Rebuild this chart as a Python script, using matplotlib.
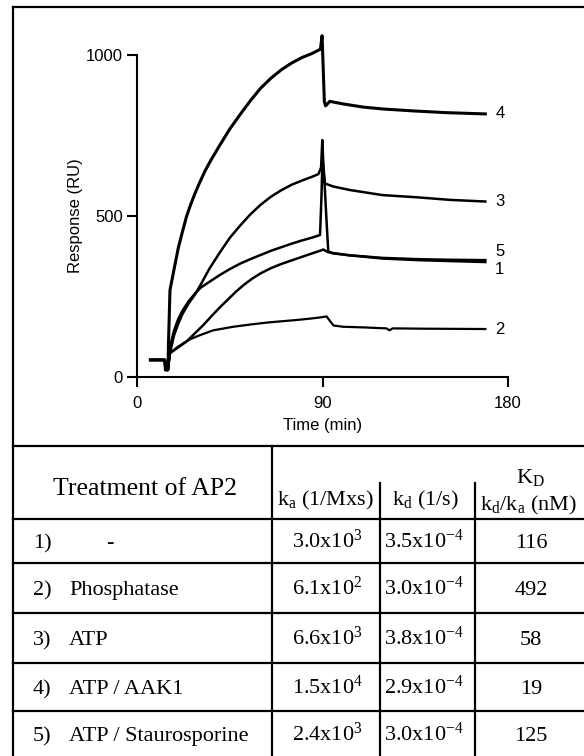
import numpy as np
import matplotlib
matplotlib.use('Agg')
import matplotlib.pyplot as plt

plt.rcParams['font.family'] = ['Liberation Sans', 'DejaVu Sans']
plt.rcParams['mathtext.fontset'] = 'custom'
plt.rcParams['mathtext.rm'] = 'Liberation Serif'
plt.rcParams['mathtext.it'] = 'Liberation Serif:italic'
plt.rcParams['mathtext.bf'] = 'Liberation Serif:bold'

## DATA
# shared baseline before injection
base_t = [6.5, 13.5, 13.8, 15.0]
base_r = [53, 53, 22, 22]

# 1) untreated
t1 = [15.3, 16, 20, 24, 28, 32, 36, 40, 44, 48, 52, 56, 60, 65, 70, 75, 80, 85, 88.8,
      90.4, 92.5, 95, 103, 119, 136, 152, 169]
r1 = [40, 74, 92, 110, 135, 160, 188, 215, 240, 265, 287, 306, 322, 338, 351, 362, 373, 384, 392,
      396, 388, 385, 378, 368, 363, 360, 357]
# 2) phosphatase
t2 = [15.3, 16, 19, 22.5, 26, 30.6, 37, 46.7, 55, 63, 70, 77.5, 85, 88.8,
      92, 93.5, 95.3, 100, 110, 121, 122.5, 124, 140, 169]
r2 = [40, 74, 90, 105, 118, 130, 145, 156, 163, 169, 173, 177, 182, 185,
      188, 175, 160, 156, 154, 151, 145, 151, 150, 149]
# 3) ATP
t3 = [15.3, 16, 18, 20, 22, 25, 28, 31, 35, 40, 45, 50, 55, 60, 65, 70, 75, 80, 85, 88, 89.3,
      89.9, 90.5, 91.2, 95, 103, 119, 136, 152, 169]
r3 = [40, 74, 130, 165, 195, 228, 255, 288, 335, 385, 432, 470, 505, 535, 560, 580, 597, 610, 622, 630, 650,
      736, 650, 601, 592, 581, 565, 558, 550, 545]
# 4) ATP / AAK1
t4 = [15.3, 16, 18, 20, 22, 24, 26, 28, 30, 33, 36, 40, 45, 50, 55, 60, 65, 70, 75, 80, 85, 89,
      89.8, 90.9, 91.5, 93.5, 100, 110, 120, 135, 150, 169]
r4 = [110, 270, 335, 400, 450, 498, 535, 568, 598, 640, 675, 718, 770, 815, 858, 897, 928, 954, 975, 992, 1005, 1018,
      1060, 855, 842, 856, 848, 838, 832, 826, 821, 817]
# 5) ATP / Staurosporine
t5 = [15.3, 16, 18, 20, 22, 25, 28, 31, 35, 40, 45, 50, 55, 60, 65, 70, 75, 80, 85, 88.8,
      89.5, 90, 91, 92, 92.8, 95, 103, 119, 136, 152, 169]
r5 = [40, 94, 145, 180, 205, 235, 258, 278, 295, 316, 335, 352, 366, 379, 392, 403, 414, 424, 433, 441,
      560, 680, 600, 480, 390, 384, 378, 370, 366, 364, 363]

curve_ids = ['1', '2', '3', '4', '5']
curve_t = [t1, t2, t3, t4, t5]
curve_r = [r1, r2, r3, r4, r5]
label_r = [334, 146, 545, 817, 391]
widths = [1.8, 1.6, 1.8, 2.2, 1.8]

# table
treatments = ['-', 'Phosphatase', 'ATP', 'ATP / AAK1', 'ATP / Staurosporine']
ka_mant = [3.0, 6.1, 6.6, 1.5, 2.4]
ka_exp = [3, 2, 3, 4, 3]
kd_mant = [3.5, 3.0, 3.8, 2.9, 3.0]
kd_exp = [-4, -4, -4, -4, -4]
KD = [116, 492, 58, 19, 125]

W, H = 584, 756
fig = plt.figure(figsize=(W/100, H/100), dpi=100)

## overlay for box and table (pixel coordinates)
ov = fig.add_axes([0, 0, 1, 1])
ov.set_xlim(0, W)
ov.set_ylim(H, 0)
ov.axis('off')
lw_t = 1.6
ov.plot([13, 13], [7, H], color='black', lw=lw_t)
ov.plot([13, W], [7, 7], color='black', lw=lw_t)
for y in [446, 519, 563, 613, 663, 711]:
    ov.plot([13, W], [y, y], color='black', lw=lw_t)
ov.plot([272, 272], [446, H], color='black', lw=lw_t)
ov.plot([380, 380], [483, H], color='black', lw=lw_t)
ov.plot([475, 475], [483, H], color='black', lw=lw_t)

serif = ['Liberation Serif', 'DejaVu Serif']
fs = 16
ov.text(145, 495, 'Treatment of AP2', family=serif, fontsize=18.5, ha='center', va='baseline')
ov.text(326, 505, r'k$_{\mathrm{a}}$ (1/Mxs)', family=serif, fontsize=fs, ha='center', va='baseline')
ov.text(426, 505, r'k$_{\mathrm{d}}$ (1/s)', family=serif, fontsize=fs, ha='center', va='baseline')
ov.text(530, 483, r'K$_{\mathrm{D}}$', family=serif, fontsize=fs, ha='center', va='baseline')
ov.text(528, 510, r'k$_{\mathrm{d}}$/k$_{\mathrm{a}}$ (nM)', family=serif, fontsize=fs, ha='center', va='baseline')

row_y = [541, 588, 638, 687, 734]
for i in range(5):
    yb = row_y[i] + 7
    ov.text(33, yb, '%d)' % (i+1), family=serif, fontsize=fs, ha='left', va='baseline')
    if treatments[i] == '-':
        ov.text(110, yb, treatments[i], family=serif, fontsize=fs, fontweight='bold', ha='center', va='baseline')
    else:
        ov.text(69, yb, treatments[i], family=serif, fontsize=fs, ha='left', va='baseline')
    ov.text(327, yb, r'%.1fx10$^{\mathrm{%d}}$' % (ka_mant[i], ka_exp[i]), family=serif, fontsize=fs, ha='center', va='baseline')
    ov.text(424, yb, r'%.1fx10$^{\mathrm{%d}}$' % (kd_mant[i], kd_exp[i]), family=serif, fontsize=fs, ha='center', va='baseline')
    ov.text(531, yb, str(KD[i]), family=serif, fontsize=fs, ha='center', va='baseline')

## sensorgram
ax = fig.add_axes([137/W, 1-377/H, (508-137)/W, (377-55)/H])
ax.patch.set_alpha(0)
for i in range(5):
    tt = base_t + curve_t[i]
    rr = base_r + curve_r[i]
    ax.plot(tt, rr, color='black', lw=widths[i], clip_on=False, solid_joinstyle='round')
    ax.text(176, label_r[i], curve_ids[i], fontsize=12, ha='center', va='center')

ax.set_xlim(0, 180)
ax.set_ylim(0, 1000)
ax.set_xticks([0, 90, 180])
ax.set_yticks([0, 500, 1000])
for s in ['top', 'right']:
    ax.spines[s].set_visible(False)
for s in ['left', 'bottom']:
    ax.spines[s].set_linewidth(1.5)
ax.tick_params(axis='x', direction='out', length=7.5, width=1.5, labelsize=12, pad=6)
ax.tick_params(axis='y', direction='out', length=7, width=1.5, labelsize=12, pad=3)
ax.set_xlabel('Time (min)', fontsize=12, labelpad=5)
ax.set_ylabel('Response (RU)', fontsize=12, labelpad=2)

fig.savefig('out.png', dpi=100)
